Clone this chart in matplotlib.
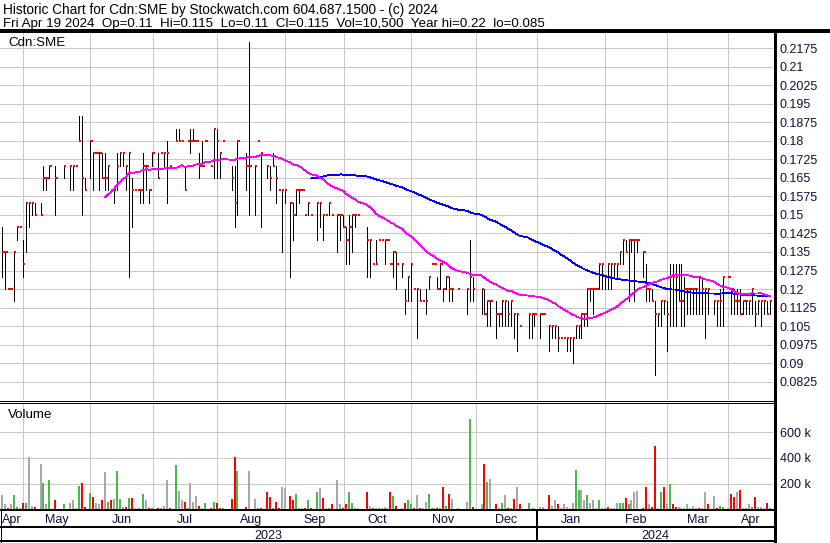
import numpy as np
import pandas as pd
import matplotlib
matplotlib.use("Agg")
import matplotlib.pyplot as plt

plt.rcParams['font.family'] = ['Liberation Sans', 'DejaVu Sans']

# ------------------------------------------------------------------ data
# one slot per weekday, 2023-04-20 .. 2024-04-19 ; None = no trade
dates = pd.bdate_range("2023-04-20", "2024-04-19")

high = [
    .145, .135, .12, .12, .135, .145, .145, .14, .155, .155,
    .155, .155, None, .155, .17, .165, .17, None, .17, None,
    None, .17, None, .17, .17, .17, .19, .19, .165, None,
    .18, .175, .175, .175, .175, .175, .17, .16, .16, .175,
    .175, .175, .17, .175, .165, .16, .16, .16, .175, .17,
    .16, .175, None, .175, .175, .175, .18, .17, None, .185,
    .185, .18, .17, .18, .185, .185, .18, .175, .18, .18,
    None, .17, .185, .185, .175, .18, None, None, .17, .17,
    .18, None, None, .175, .22, None, .17, .18, .175, None,
    .17, .17, .175, .17, .16, .16, .16, None, .155, .155,
    .16, .16, .16, .15, .155, .15, None, .155, .155, .15,
    .15, .155, .15, None, .15, .15, .15, .145, .15, .15,
    .15, .15, None, None, .145, .14, .13, .14, .14, .14,
    .14, .14, .13, .135, .135, None, .13, .12, .125, .13,
    .12, .12, .12, .115, .12, .125, .13, .13, .125, .13,
    .12, .125, .125, .12, None, .12, None, None, .12, .14,
    .125, None, None, .12, .12, .115, .115, None, .115, .11,
    .115, .115, .115, .115, .11, .11, .105, None, None, .11,
    .11, .11, None, .11, .11, None, .105, .105, .105, .105,
    .10, .10, .10, .10, .10, .105, .105, .11, .11, .12,
    .12, .12, .12, .13, .13, .125, .13, .13, .13, .13,
    .135, .14, .14, .14, .14, .14, .14, None, .135, .13,
    .12, .12, .115, .11, .115, .115, .115, .13, .13, .13,
    .13, .13, .125, .12, .12, .12, .12, .125, .125, .12,
    .12, None, .115, .115, .12, .125, None, .125, .12, .12,
    .12, .12, .115, .115, .115, .12, .115, .115, .115, .115,
    .115, .115,
]

low = [
    .125, .12, .12, .12, .115, .14, .145, .125, .135, .145,
    .15, .15, None, .15, .16, .16, .165, None, .15, None,
    None, .165, None, .16, .16, .17, .18, .15, .16, None,
    .165, .16, .175, .16, .165, .16, .16, .16, .155, .16,
    .17, .17, .16, .125, .145, .16, .16, .155, .155, .16,
    .155, .17, None, .165, .175, .17, .155, .17, None, .18,
    .18, .18, .16, .18, .175, .18, .18, .165, .17, .18,
    None, .17, .165, .165, .165, .18, None, None, .16, .145,
    .15, None, None, .16, .15, None, .15, .18, .145, None,
    .165, .16, .17, .155, .16, .135, .155, None, .125, .14,
    .15, .155, .16, .15, .15, .15, None, .14, .145, .14,
    .15, .15, .15, None, .135, .14, .145, .13, .13, .135,
    .145, .15, None, None, .125, .125, .13, .13, .14, .14,
    .13, .14, .13, .125, .12, None, .125, .11, .115, .115,
    .12, .10, .115, .115, .11, .12, .13, .13, .12, .12,
    .115, .12, .115, .115, None, .12, None, None, .11, .115,
    .115, None, None, .11, .11, .105, .105, None, .10, .105,
    .105, .105, .105, .105, .10, .095, .105, None, None, .10,
    .10, .105, None, .10, .11, None, .095, .10, .10, .095,
    .10, .10, .095, .095, .09, .10, .10, .10, .105, .105,
    .115, .11, .12, .12, .12, .12, .12, .12, .125, .125,
    .13, .13, .135, .115, .135, .115, .135, None, .125, .115,
    .115, .115, .085, .105, .105, .11, .095, .105, .105, .105,
    .115, .105, .105, .11, .11, .11, .11, .11, .11, .10,
    .11, None, .11, .105, .105, .105, None, .125, .11, .11,
    .11, .11, .11, .11, .11, .11, .105, .11, .105, .11,
    .11, .11,
]

close = [
    .135, .135, .12, .12, .135, .145, .145, .13, .155, .155,
    .155, .15, None, .15, .165, .165, .17, None, .165, None,
    None, .17, None, .17, .17, .17, .18, .165, .16, None,
    .18, .175, .175, .175, .165, .165, .17, .16, .16, .17,
    .175, .175, .17, .175, .16, .16, .16, .16, .17, .17,
    .16, .175, None, .165, .175, .175, .175, .17, None, .18,
    .18, .18, .16, .18, .18, .18, .18, .17, .17, .18,
    None, .17, .185, .18, .175, .18, None, None, .165, .155,
    .18, None, None, .17, .17, None, .17, .18, .175, None,
    .17, .165, .17, .165, .16, .16, .16, None, .155, .15,
    .16, .16, .16, .15, .155, .15, None, .155, .155, .15,
    .15, .155, .15, None, .15, .15, .145, .14, .145, .15,
    .15, .15, None, None, .14, .14, .13, .13, .14, .14,
    .14, .14, .13, .135, .13, None, .13, .115, .125, .13,
    .12, .12, .115, .115, .115, .125, .13, .13, .12, .13,
    .12, .125, .12, .12, None, .12, None, None, .12, .125,
    .12, None, None, .12, .11, .115, .115, None, .11, .11,
    .115, .115, .11, .115, .11, .11, .105, None, None, .11,
    .11, .11, None, .11, .11, None, .105, .105, .105, .10,
    .10, .10, .10, .10, .10, .105, .105, .11, .11, .12,
    .12, .12, .12, .13, .13, .125, .13, .13, .13, .13,
    .135, .14, .135, .14, .14, .14, .14, None, .135, .12,
    .12, .115, .11, .11, .115, .115, .11, .125, .125, .125,
    .115, .115, .12, .12, .12, .12, .12, .125, .12, .12,
    .12, None, .115, .115, .115, .125, None, .125, .12, .115,
    .115, .11, .115, .115, .115, .12, .11, .115, .115, .115,
    .11, .115,
]

# volume in thousands of shares
volume_k = [
    116, 39, 10, 39, 116, 23, 15, 54, 54, 410,
    31, 23, 0, 354, 206, 39, 232, 0, 70, 0,
    0, 39, 0, 49, 70, 8, 186, 206, 23, 0,
    129, 100, 54, 39, 77, 294, 62, 70, 85, 302,
    85, 23, 23, 93, 93, 15, 15, 10, 124, 70,
    15, 15, 0, 15, 15, 26, 232, 10, 0, 348,
    147, 70, 62, 15, 206, 62, 108, 31, 15, 52,
    0, 8, 62, 54, 15, 8, 0, 0, 85, 410,
    302, 0, 0, 23, 302, 0, 85, 15, 15, 0,
    132, 100, 10, 62, 10, 178, 170, 0, 108, 70,
    124, 15, 15, 15, 70, 15, 0, 132, 163, 93,
    8, 8, 39, 0, 232, 39, 15, 44, 132, 54,
    15, 8, 0, 0, 139, 31, 8, 8, 8, 8,
    23, 8, 132, 108, 31, 0, 15, 54, 70, 46,
    8, 116, 15, 8, 62, 124, 8, 8, 15, 8,
    178, 31, 124, 85, 0, 8, 0, 0, 62, 705,
    23, 0, 0, 46, 356, 217, 240, 0, 46, 15,
    54, 116, 8, 8, 85, 178, 46, 0, 0, 54,
    15, 8, 0, 23, 23, 0, 116, 31, 77, 46,
    15, 39, 23, 15, 54, 310, 155, 155, 77, 116,
    54, 77, 8, 77, 8, 15, 23, 8, 10, 54,
    54, 54, 93, 39, 77, 132, 147, 0, 15, 178,
    46, 23, 495, 8, 132, 178, 46, 201, 46, 23,
    23, 15, 10, 39, 15, 31, 10, 8, 8, 132,
    39, 0, 108, 15, 31, 23, 0, 8, 124, 100,
    139, 155, 8, 8, 39, 23, 100, 23, 23, 8,
    54, 10.5,
]

# volume bar colour class: g = up, r = down, n = unchanged
vol_dir = list(
    "nnrnggnrgn" "nrnngngnrn" "ngnnnngrrn" "grnnrngrng"
    "gnrgrnnngn" "rgnrgnnrng" "nnrgnnnrng" "nrgrrgnnrr"
    "gnnrnnngrn" "rrgrrnnnrr" "gnnrgrngnr" "ngrnnnrrgg"
    "nnnnrnrngn" "nnrgrnnrgg" "rnrnnggnrg" "rgrnnnnnng"
    "rnnnrgnnrn" "gnrgrnrnng" "nnnnnnrnnr" "nnnnnggnng"
    "nnngnnrnnn" "ggrgnnnnrr" "nrrngrngrr" "nnnngnnrnn"
    "rnnrggnnrr" "nrngngrnnn" "rg"
)

fast_window = 30   # pink moving average (trading days)
slow_window = 90   # blue moving average (trading days)

price_ticks = [0.0825, 0.09, 0.0975, 0.105, 0.1125, 0.12, 0.1275, 0.135, 0.1425,
               0.15, 0.1575, 0.165, 0.1725, 0.18, 0.1875, 0.195, 0.2025, 0.21, 0.2175]
vol_ticks_k = [200, 400, 600]

title1 = "Historic Chart for Cdn:SME by Stockwatch.com 604.687.1500 - (c) 2024"
title2 = ("Fri Apr 19 2024  Op=0.11  Hi=0.115  Lo=0.11  Cl=0.115  Vol=10,500  "
          "Year hi=0.22  lo=0.085")

# ------------------------------------------------------------------ figure
W, H = 830, 543
fig = plt.figure(figsize=(W / 100, H / 100), dpi=100)
fig.patch.set_facecolor("white")

def rect(x0, y0, x1, y1):
    return [x0 / W, 1 - y1 / H, (x1 - x0) / W, (y1 - y0) / H]

PX = 0.72  # points per pixel
LABEL_C = "#10103a"
GRID_C = "#c8c8c8"

n = len(dates)
kk = np.arange(n)
hi = np.array([np.nan if v is None else v for v in high], float)
lo = np.array([np.nan if v is None else v for v in low], float)
cl = np.array([np.nan if v is None else v for v in close], float)
vol = np.array(volume_k, float) * 1000
tr = ~np.isnan(cl)

xlim = (-0.78, 262.14)

def pos_of(d):
    i = dates.searchsorted(d)
    return float(i) if d.weekday() < 5 else i - 0.85

month_starts = pd.date_range("2023-05-01", "2024-04-01", freq="MS")
grid_x = [pos_of(d) for d in month_starts]

# ---------------- price panel
ax = fig.add_axes(rect(0, 32, 773, 400))
ax.set_xlim(*xlim)
ax.set_ylim(0.07506, 0.2241)
for s in ax.spines.values():
    s.set_visible(False)
ax.set_xticks(grid_x)
ax.set_xticklabels([])
ax.set_yticks(price_ticks)
ax.set_yticklabels([f"{t:g}" for t in price_ticks])
ax.yaxis.tick_right()
ax.tick_params(axis="both", length=0)
ax.tick_params(axis="y", pad=5, labelsize=9, labelcolor=LABEL_C)
ax.grid(True, color=GRID_C, linewidth=PX, antialiased=False)
ax.set_axisbelow(True)

ax.vlines(kk[tr], lo[tr], hi[tr], colors="black", linewidth=PX,
          antialiased=False, zorder=3)
ax.hlines(cl[tr], kk[tr], kk[tr] + 0.8, colors="#ff0000", linewidth=2 * PX,
          antialiased=False, zorder=4)

s_close = pd.Series(cl[tr], index=kk[tr])
ma_fast = s_close.rolling(fast_window).mean()
ma_slow = s_close.rolling(slow_window).mean()
ax.plot(ma_slow.index, ma_slow.values, color="#0000ff", linewidth=0.6,
        antialiased=False, zorder=5)
ax.plot(ma_fast.index, ma_fast.values, color="#ff00ff", linewidth=0.6,
        antialiased=False, zorder=6)

# ---------------- volume panel
axv = fig.add_axes(rect(0, 403, 773, 509.5))
axv.set_xlim(*xlim)
axv.set_ylim(0, 825600)
for s in axv.spines.values():
    s.set_visible(False)
axv.set_xticks(grid_x)
axv.set_xticklabels([])
axv.set_yticks([v * 1000 for v in vol_ticks_k])
axv.set_yticklabels([f"{v} k" for v in vol_ticks_k])
axv.yaxis.tick_right()
axv.tick_params(axis="both", length=0)
axv.tick_params(axis="y", pad=5, labelsize=9, labelcolor=LABEL_C)
axv.grid(True, color=GRID_C, linewidth=PX, antialiased=False)
axv.set_axisbelow(True)

cmap = {"g": "#4cb84c", "r": "#ff0000", "n": "#a8a8a8"}
vcols = [cmap[c] for c in vol_dir]
axv.bar(kk[tr], vol[tr], width=0.68, color=[vcols[i] for i in kk[tr]],
        linewidth=0, antialiased=False, zorder=3)

# ---------------- x-axis label rows
axx = fig.add_axes(rect(0, 510, 773, 542))
axx.set_xlim(*xlim)
axx.set_ylim(542, 510)
axx.axis("off")
edges = [xlim[0]] + grid_x + [xlim[1]]
month_names = ["Apr"] + [d.strftime("%b") for d in month_starts]
for a, b, name in zip(edges[:-1], edges[1:], month_names):
    axx.text((a + b) / 2, 523, name, ha="center", va="baseline",
             fontsize=9, color=LABEL_C)
jan = pos_of(pd.Timestamp("2024-01-01"))
axx.vlines([jan], 511, 541, colors="black", linewidth=2 * PX, antialiased=False)
axx.text((xlim[0] + jan) / 2, 539, "2023", ha="center", va="baseline",
         fontsize=9, color=LABEL_C)
axx.text((jan + xlim[1]) / 2, 539, "2024", ha="center", va="baseline",
         fontsize=9, color=LABEL_C)

# ---------------- frame & header (pixel coordinates)
ov = fig.add_axes([0, 0, 1, 1])
ov.set_xlim(0, W)
ov.set_ylim(H, 0)
ov.axis("off")
ov.patch.set_alpha(0)

def hline(y, x0, x1, px):
    ov.plot([x0, x1], [y, y], color="black", linewidth=px * PX,
            solid_capstyle="butt", antialiased=False)

def vline(x, y0, y1, px):
    ov.plot([x, x], [y0, y1], color="black", linewidth=px * PX,
            solid_capstyle="butt", antialiased=False)

hline(31, 0, W, 2.5)
hline(400.5, 0, 775, 1)
hline(402.5, 0, 775, 1)
hline(510.2, 0, 775, 2)
hline(527, 0, 775, 2)
hline(541.4, 0, 775, 2)
vline(774.7, 30, H, 3)
vline(0.5, 510, 542, 1)

ov.text(3, 14, title1, fontsize=9.8, color="black", va="baseline")
ov.text(3, 27.3, title2, fontsize=9.6, color="black", va="baseline")
ov.text(8, 46, "Cdn:SME", fontsize=9.6, color="black", va="baseline")
ov.text(8, 418, "Volume", fontsize=9.6, color="black", va="baseline")

fig.savefig("out.png", dpi=100, facecolor="white")
